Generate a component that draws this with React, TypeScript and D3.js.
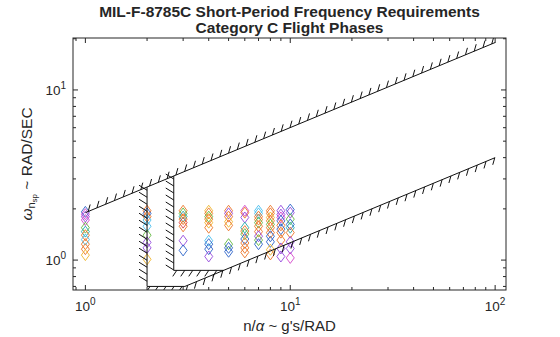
import React from "react";
import * as d3 from "d3";

// ---- data ----
const titleLines = ["MIL-F-8785C Short-Period Frequency Requirements", "Category C Flight Phases"];
const xTickValues = [1, 10, 100];
const yTickValues = [1, 10];

// boundaries (n/alpha, omega)
const upperLine: [number, number][] = [[1, 1.9], [100, 19.0]];
const lowerLine: [number, number][] = [[3.06, 0.7], [100, 4.0]];
const level2Vertical: [number, number][] = [[2.0, 2.68], [2.0, 0.7]];
const level2Floor: [number, number][] = [[2.0, 0.7], [3.06, 0.7]];
const level1Vertical: [number, number][] = [[2.7, 3.12], [2.7, 0.87]];
const level1Floor: [number, number][] = [[2.7, 0.87], [4.73, 0.87]];

// scatter columns
const colNAlpha = [1, 2, 3, 4, 5, 6, 7, 8, 9, 10];
const colOmega: number[][] = [
  [1.92, 1.86, 1.80, 1.72, 1.55, 1.47, 1.40, 1.32, 1.24, 1.16, 1.07],
  [1.95, 1.88, 1.80, 1.72, 1.58, 1.40, 1.27, 1.18, 1.01],
  [1.95, 1.88, 1.80, 1.74, 1.66, 1.58, 1.30, 1.14],
  [1.95, 1.88, 1.80, 1.74, 1.66, 1.55, 1.30, 1.24, 1.16, 1.05],
  [1.95, 1.88, 1.80, 1.68, 1.60, 1.24, 1.18, 1.12],
  [1.95, 1.90, 1.78, 1.55, 1.48, 1.42, 1.33, 1.26, 1.18, 1.11],
  [1.95, 1.88, 1.80, 1.73, 1.66, 1.58, 1.47, 1.38, 1.31, 1.24],
  [1.95, 1.88, 1.78, 1.70, 1.62, 1.55, 1.45, 1.38, 1.28, 1.15, 1.08],
  [1.95, 1.85, 1.78, 1.70, 1.60, 1.52, 1.45, 1.31, 1.17, 1.05],
  [1.98, 1.90, 1.74, 1.62, 1.55, 1.45, 1.28, 1.17, 1.03],
];
const colColors: string[][] = [
  ["B", "M", "P", "M", "G", "T", "O", "C", "O", "O", "Y"],
  ["O", "B", "O", "C", "C", "G", "P", "P", "Y"],
  ["O", "G", "T", "O", "R", "O", "P", "B"],
  ["Y", "O", "G", "O", "Y", "O", "C", "B", "B", "P"],
  ["O", "P", "O", "Y", "O", "G", "B", "B"],
  ["M", "O", "P", "T", "O", "G", "B", "O", "O", "O"],
  ["C", "C", "O", "O", "G", "O", "O", "P", "G", "B"],
  ["O", "O", "Y", "O", "G", "O", "O", "B", "B", "Y", "O"],
  ["P", "P", "M", "B", "O", "B", "O", "O", "P", "P"],
  ["B", "P", "G", "B", "T", "O", "P", "P", "M"],
];
const palette: Record<string, string> = {
  B: "#2a62c8", O: "#ec7426", Y: "#efb42a", M: "#d548cc", P: "#9448dc",
  C: "#45bdee", G: "#62b840", T: "#22a8aa", R: "#dc4040",
};

// ---- layout ----
const W = 560, H = 337;
const L = 73, R = 506, T = 38, B = 290;
const x = d3.scaleLog().domain([0.87, 113]).range([L, R]);
const y = d3.scaleLog().domain([0.667, 20.2]).range([B, T]);

function hatchPath(seg: [number, number][], spacing: number, hx: number, hy: number, offset = 3) {
  const x0 = x(seg[0][0]), y0 = y(seg[0][1]);
  const x1 = x(seg[1][0]), y1 = y(seg[1][1]);
  const len = Math.hypot(x1 - x0, y1 - y0);
  let p = "";
  for (let t = offset; t <= len; t += spacing) {
    const px = x0 + (x1 - x0) * (t / len);
    const py = y0 + (y1 - y0) * (t / len);
    p += `M${px},${py}L${px + hx},${py + hy}`;
  }
  return p;
}
const lineGen = d3.line<[number, number]>().x(d => x(d[0])).y(d => y(d[1]));

export default function App() {
  const xMinor: number[] = [];
  [0.1, 1, 10].forEach(dec => { for (let k = 2; k <= 9; k++) { const v = k * dec; if (v > 0.87 && v < 113 && v !== 1 && v !== 10 && v !== 100) xMinor.push(v); } });
  const yMinor: number[] = [];
  [0.1, 1, 10].forEach(dec => { for (let k = 2; k <= 9; k++) { const v = k * dec; if (v > 0.667 && v < 20.2 && v !== 1 && v !== 10) yMinor.push(v); } });

  const font = "'Liberation Sans', Arial, Helvetica, sans-serif";
  const segs = [upperLine, lowerLine, level2Vertical, level2Floor, level1Vertical, level1Floor];

  return (
    <svg width={W} height={H} style={{ position: "absolute", left: 0, top: 0, background: "#fff" }} fontFamily={font}>
      <rect x={0} y={0} width={W} height={H} fill="#fff" />
      {titleLines.map((t, i) => (
        <text key={i} x={(L + R) / 2} y={16.5 + i * 16.5} textAnchor="middle" fontWeight="bold" fontSize={15.5} fill="#262626">{t}</text>
      ))}
      <defs>
        <clipPath id="plot"><rect x={L} y={T} width={R - L} height={B - T} /></clipPath>
      </defs>
      {/* scatter */}
      <g clipPath="url(#plot)">
        {colNAlpha.map((na, ci) => colOmega[ci].map((w, j) => {
          const cx = x(na), cy = y(w);
          return <path key={`${ci}-${j}`} d={`M${cx},${cy - 5.5}L${cx + 4},${cy}L${cx},${cy + 5.5}L${cx - 4},${cy}Z`} fill="none" stroke={palette[colColors[ci][j]]} strokeWidth={0.9} />;
        }))}
        {/* boundary lines */}
        {segs.map((s, i) => <path key={i} d={lineGen(s) || ""} fill="none" stroke="#111" strokeWidth={1} />)}
        <path d={hatchPath(upperLine, 9.5, 2, -7)} stroke="#111" strokeWidth={1} fill="none" />
        <path d={hatchPath(lowerLine, 9.5, -2, 7)} stroke="#111" strokeWidth={1} fill="none" />
        <path d={hatchPath(level2Vertical, 7, -8, -5)} stroke="#111" strokeWidth={1} fill="none" />
        <path d={hatchPath(level1Vertical, 7, -8, -5)} stroke="#111" strokeWidth={1} fill="none" />
        <path d={hatchPath(level2Floor, 8, -4, 6)} stroke="#111" strokeWidth={1} fill="none" />
        <path d={hatchPath(level1Floor, 8, -4, 6)} stroke="#111" strokeWidth={1} fill="none" />
      </g>
      {/* axes box */}
      <rect x={L} y={T} width={R - L} height={B - T} fill="none" stroke="#262626" strokeWidth={1} />
      {xTickValues.map(v => (
        <g key={`xt${v}`}>
          <line x1={x(v)} x2={x(v)} y1={B} y2={B - 5} stroke="#262626" />
          <line x1={x(v)} x2={x(v)} y1={T} y2={T + 5} stroke="#262626" />
          <text x={x(v)} y={B + 21} textAnchor="middle" fontSize={13.5} fill="#262626">10<tspan dy={-6} fontSize={10}>{Math.round(Math.log10(v))}</tspan></text>
        </g>
      ))}
      {xMinor.map(v => (
        <g key={`xm${v}`}>
          <line x1={x(v)} x2={x(v)} y1={B} y2={B - 3} stroke="#262626" />
          <line x1={x(v)} x2={x(v)} y1={T} y2={T + 3} stroke="#262626" />
        </g>
      ))}
      {yTickValues.map(v => (
        <g key={`yt${v}`}>
          <line x1={L} x2={L + 5} y1={y(v)} y2={y(v)} stroke="#262626" />
          <line x1={R} x2={R - 5} y1={y(v)} y2={y(v)} stroke="#262626" />
          <text x={L - 7} y={y(v) + 5} textAnchor="end" fontSize={13.5} fill="#262626">10<tspan dy={-6} fontSize={10}>{Math.round(Math.log10(v))}</tspan></text>
        </g>
      ))}
      {yMinor.map(v => (
        <g key={`ym${v}`}>
          <line x1={L} x2={L + 3} y1={y(v)} y2={y(v)} stroke="#262626" />
          <line x1={R} x2={R - 3} y1={y(v)} y2={y(v)} stroke="#262626" />
        </g>
      ))}
      <text x={(L + R) / 2} y={331} textAnchor="middle" fontSize={15} fill="#262626">n/<tspan fontStyle="italic">α</tspan> ~ g's/RAD</text>
      <text transform={`translate(32,${(T + B) / 2}) rotate(-90)`} textAnchor="middle" fontSize={15.5} fill="#262626">
        <tspan fontStyle="italic">ω</tspan><tspan dy={3} fontSize={11}>n</tspan><tspan dy={2} fontSize={8}>sp</tspan><tspan dy={-5} fontSize={15.5}> ~ RAD/SEC</tspan>
      </text>
    </svg>
  );
}
